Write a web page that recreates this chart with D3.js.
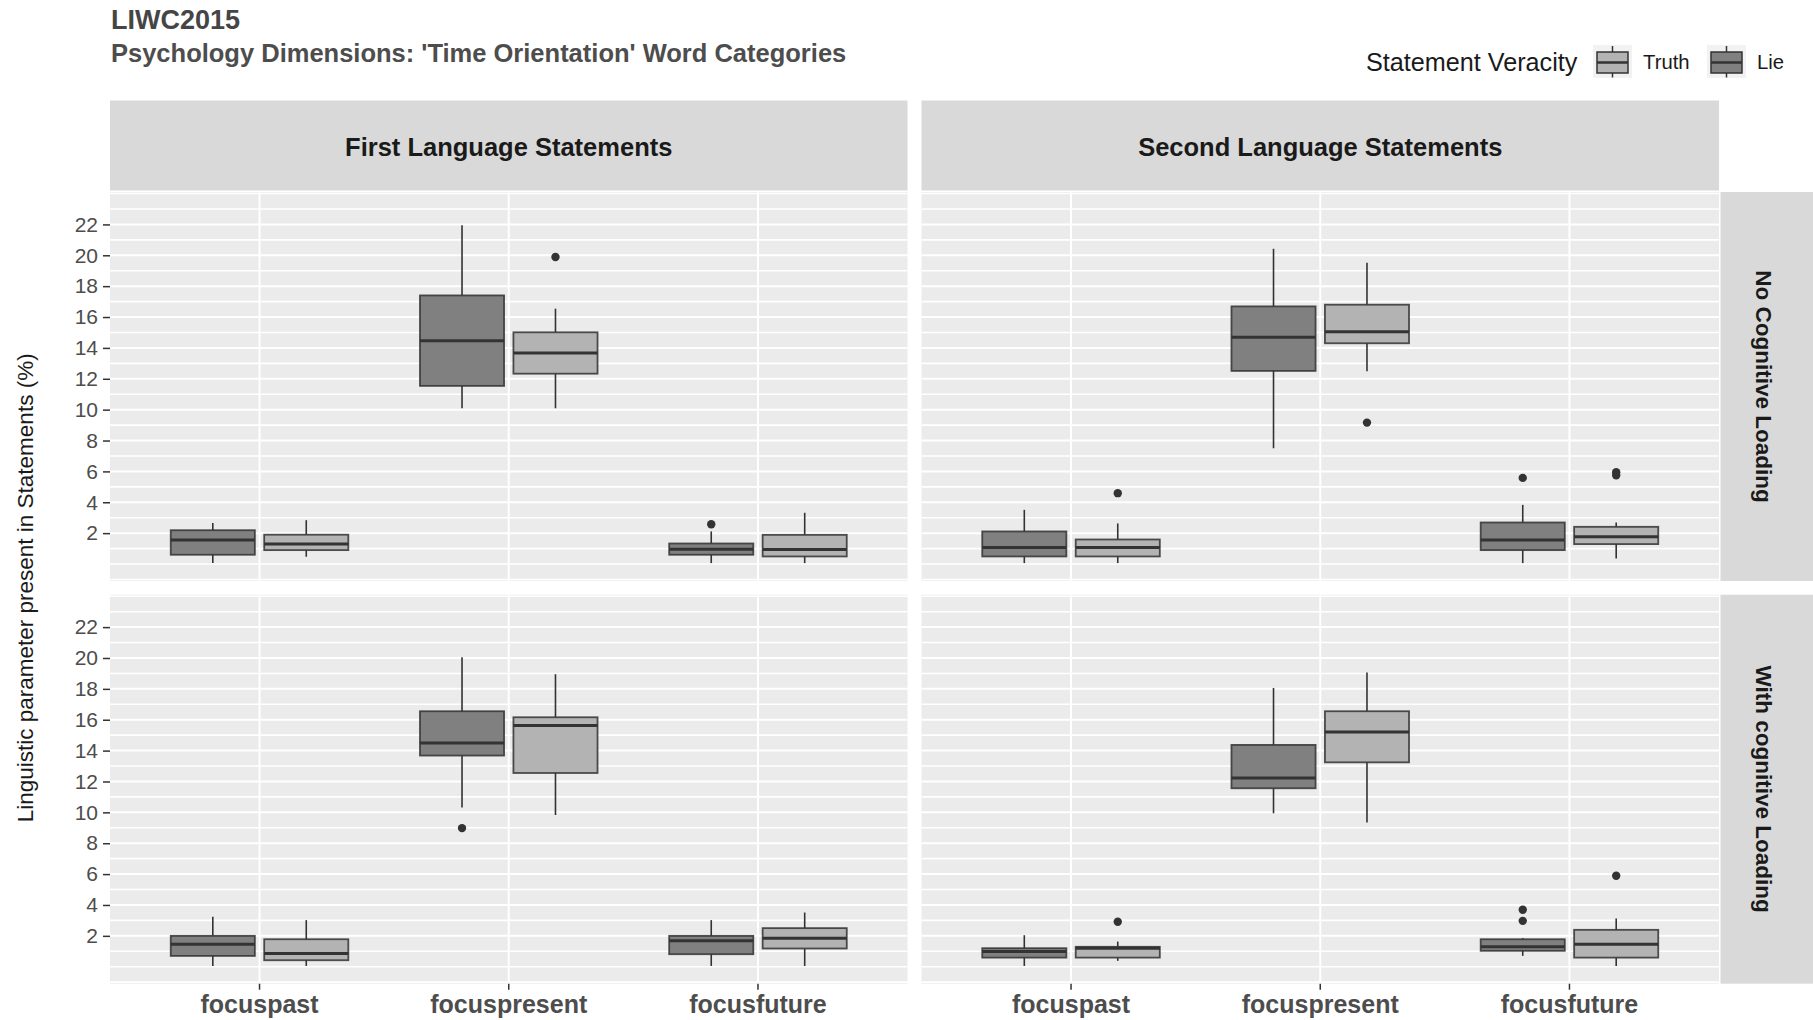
<!DOCTYPE html>
<html>
<head>
<meta charset="utf-8">
<script src="https://cdn.jsdelivr.net/npm/d3@7"></script>
<style>
  html, body { margin: 0; padding: 0; background: #ffffff; }
  svg { display: block; font-family: "Liberation Sans", Arial, sans-serif; }
</style>
</head>
<body>
<script>
// Facets, categories and groups
const languages = ["First Language Statements", "Second Language Statements"];
const loadings = ["No Cognitive Loading", "With cognitive Loading"];
const categories = ["focuspast", "focuspresent", "focusfuture"];
const dodgeOrder = ["Lie", "Truth"];
const legendOrder = ["Truth", "Lie"];
const yTicks = [2, 4, 6, 8, 10, 12, 14, 16, 18, 20, 22];

// Box statistics per category: [lower whisker, Q1, median, Q3, upper whisker]
const firstNoLie    = [[0.06, 0.60, 1.55, 2.19, 2.65], [10.09, 11.54, 14.47, 17.40, 21.94], [0.06, 0.60, 0.96, 1.33, 2.11]];
const firstNoTruth  = [[0.47, 0.90, 1.29, 1.90, 2.84], [10.09, 12.33, 13.67, 15.01, 16.54], [0.06, 0.49, 0.94, 1.89, 3.32]];
const secondNoLie   = [[0.06, 0.49, 1.07, 2.11, 3.51], [7.50, 12.51, 14.69, 16.69, 20.42], [0.06, 0.90, 1.55, 2.69, 3.83]];
const secondNoTruth = [[0.06, 0.49, 1.07, 1.59, 2.63], [12.49, 14.30, 15.05, 16.80, 19.52], [0.36, 1.29, 1.76, 2.41, 2.69]];
const firstWithLie    = [[0.05, 0.70, 1.46, 2.00, 3.23], [10.32, 13.68, 14.50, 16.55, 20.05], [0.05, 0.81, 1.68, 2.00, 3.02]];
const firstWithTruth  = [[0.05, 0.42, 0.85, 1.78, 3.02], [9.83, 12.55, 15.62, 16.16, 18.95], [0.05, 1.18, 1.85, 2.50, 3.51]];
const secondWithLie   = [[0.05, 0.59, 0.98, 1.20, 2.04], [9.94, 11.56, 12.23, 14.37, 18.06], [0.70, 1.03, 1.29, 1.78, 1.85]];
const secondWithTruth = [[0.38, 0.59, 1.20, 1.29, 1.63], [9.35, 13.24, 15.21, 16.55, 19.06], [0.05, 0.59, 1.46, 2.39, 3.12]];

// Outlying values per category
const firstNoLieOut    = [[], [], [2.58]];
const firstNoTruthOut  = [[], [19.89], []];
const secondNoLieOut   = [[], [], [5.58]];
const secondNoTruthOut = [[4.59], [9.16], [5.75, 5.95]];
const firstWithLieOut    = [[], [8.98], []];
const firstWithTruthOut  = [[], [], []];
const secondWithLieOut   = [[], [], [2.97, 3.69]];
const secondWithTruthOut = [[2.91], [], [5.89]];

// Panel table: [row][col] -> { Lie, Truth }
const panels = [
  [ { Lie: [firstNoLie, firstNoLieOut], Truth: [firstNoTruth, firstNoTruthOut] },
    { Lie: [secondNoLie, secondNoLieOut], Truth: [secondNoTruth, secondNoTruthOut] } ],
  [ { Lie: [firstWithLie, firstWithLieOut], Truth: [firstWithTruth, firstWithTruthOut] },
    { Lie: [secondWithLie, secondWithLieOut], Truth: [secondWithTruth, secondWithTruthOut] } ]
];

const fills = { Lie: "#808080", Truth: "#b3b3b3" };
const lineCol = "#333333";

const W = 1813, H = 1020;
const panelW = 797.5, panelH = 389;
const colX = [110, 921.5];
const rowY = [192, 594.7];

const svg = d3.select("body").append("svg").attr("width", W).attr("height", H);
svg.append("rect").attr("width", W).attr("height", H).attr("fill", "#ffffff");

// Scales shared by every facet
const x = d3.scaleBand().domain(categories).range([0, panelW]).paddingInner(0).paddingOuter(0.1);
const step = x.step();
const xd = d3.scaleBand().domain(dodgeOrder)
  .range([-0.375 * step, 0.375 * step]).paddingInner(0.1).paddingOuter(0.05);
const y = d3.scaleLinear().domain([-1.1, 24.1]).range([panelH, 0]);

// Titles
svg.append("text").attr("x", 111).attr("y", 28.5)
  .attr("font-size", 27).attr("font-weight", "bold").attr("fill", "#454545")
  .text("LIWC2015");
svg.append("text").attr("x", 111).attr("y", 61.5)
  .attr("font-size", 25.5).attr("font-weight", "bold").attr("fill", "#4d4d4d")
  .text("Psychology Dimensions: 'Time Orientation' Word Categories");

// Legend
const legend = svg.append("g");
legend.append("text").attr("x", 1366).attr("y", 71)
  .attr("font-size", 25.2).attr("fill", "#1a1a1a").text("Statement Veracity");
const keyX = { Truth: 1593, Lie: 1707 };
const labelX = { Truth: 1643, Lie: 1757 };
legendOrder.forEach(v => {
  const g = legend.append("g").attr("transform", `translate(${keyX[v]},45)`);
  g.append("rect").attr("width", 39).attr("height", 33).attr("fill", "#f2f2f2");
  g.append("line").attr("x1", 19.5).attr("x2", 19.5).attr("y1", 1).attr("y2", 7)
    .attr("stroke", lineCol).attr("stroke-width", 1.5);
  g.append("line").attr("x1", 19.5).attr("x2", 19.5).attr("y1", 28).attr("y2", 32.5)
    .attr("stroke", lineCol).attr("stroke-width", 1.5);
  g.append("rect").attr("x", 4).attr("y", 7).attr("width", 31).attr("height", 21)
    .attr("fill", fills[v]).attr("stroke", lineCol).attr("stroke-width", 1.5);
  g.append("line").attr("x1", 4).attr("x2", 35).attr("y1", 17.5).attr("y2", 17.5)
    .attr("stroke", lineCol).attr("stroke-width", 2.5);
  legend.append("text").attr("x", labelX[v]).attr("y", 69)
    .attr("font-size", 20.3).attr("fill", "#1a1a1a").text(v);
});

// Strips along the top
languages.forEach((lang, c) => {
  svg.append("rect").attr("x", colX[c]).attr("y", 100.5).attr("width", panelW).attr("height", 90)
    .attr("fill", "#d9d9d9");
  svg.append("text").attr("x", colX[c] + panelW / 2).attr("y", 155.5)
    .attr("text-anchor", "middle").attr("font-size", 25.5).attr("font-weight", "bold")
    .attr("fill", "#1a1a1a").text(lang);
});

// Strips along the right side
loadings.forEach((ld, r) => {
  svg.append("rect").attr("x", colX[1] + panelW + 1.5).attr("y", rowY[r]).attr("width", 95).attr("height", panelH)
    .attr("fill", "#d9d9d9");
  const cx = 1764, cy = rowY[r] + panelH / 2;
  svg.append("text").attr("transform", `translate(${cx},${cy}) rotate(90)`)
    .attr("text-anchor", "middle").attr("dy", "0.35em")
    .attr("font-size", 22.5).attr("font-weight", "bold").attr("fill", "#1a1a1a").text(ld);
});

// Y axis title
svg.append("text").attr("transform", `translate(25,${(rowY[0] + rowY[1] + panelH) / 2}) rotate(-90)`)
  .attr("text-anchor", "middle").attr("dy", "0.35em")
  .attr("font-size", 22.5).attr("fill", "#1a1a1a")
  .text("Linguistic parameter present in Statements (%)");

const gridVals = d3.range(-1, 25);

panels.forEach((row, r) => {
  row.forEach((cell, c) => {
    const g = svg.append("g").attr("transform", `translate(${colX[c]},${rowY[r]})`);
    g.append("rect").attr("width", panelW).attr("height", panelH).attr("fill", "#ebebeb");

    // Grid lines
    g.selectAll("line.hgrid").data(gridVals).join("line").attr("class", "hgrid")
      .attr("x1", 0).attr("x2", panelW)
      .attr("y1", d => y(d)).attr("y2", d => y(d))
      .attr("stroke", "#ffffff").attr("stroke-width", d => (d % 2 === 0 && d >= 2 && d <= 22) ? 2 : 1.6);
    g.selectAll("line.vgrid").data(categories).join("line").attr("class", "vgrid")
      .attr("x1", d => x(d) + x.bandwidth() / 2).attr("x2", d => x(d) + x.bandwidth() / 2)
      .attr("y1", 0).attr("y2", panelH)
      .attr("stroke", "#ffffff").attr("stroke-width", 2);

    // Boxes
    dodgeOrder.forEach(v => {
      const [stats, outs] = cell[v];
      categories.forEach((cat, i) => {
        const [lo, q1, med, q3, hi] = stats[i];
        const cx0 = x(cat) + x.bandwidth() / 2;
        const bx = cx0 + xd(v);
        const bw = xd.bandwidth();
        const mid = bx + bw / 2;
        const bg = g.append("g");
        bg.append("line").attr("x1", mid).attr("x2", mid).attr("y1", y(hi)).attr("y2", y(q3))
          .attr("stroke", lineCol).attr("stroke-width", 1.6);
        bg.append("line").attr("x1", mid).attr("x2", mid).attr("y1", y(q1)).attr("y2", y(lo))
          .attr("stroke", lineCol).attr("stroke-width", 1.6);
        bg.append("rect").attr("x", bx).attr("y", y(q3)).attr("width", bw).attr("height", y(q1) - y(q3))
          .attr("fill", fills[v]).attr("stroke", lineCol).attr("stroke-width", 1.8).attr("stroke-opacity", 0.85);
        bg.append("line").attr("x1", bx).attr("x2", bx + bw).attr("y1", y(med)).attr("y2", y(med))
          .attr("stroke", lineCol).attr("stroke-width", 3);
        bg.selectAll("circle").data(outs[i]).join("circle")
          .attr("cx", mid).attr("cy", d => y(d)).attr("r", 4.2).attr("fill", lineCol);
      });
    });

    // Y axis on the left column
    if (c === 0) {
      const ya = g.append("g").call(d3.axisLeft(y).tickValues(yTicks).tickSize(7).tickPadding(5));
      ya.select(".domain").remove();
      ya.selectAll(".tick line").attr("stroke", "#333333").attr("stroke-width", 1.5);
      ya.selectAll(".tick text").attr("font-size", 21).attr("fill", "#4d4d4d")
        .attr("font-family", "'Liberation Sans', Arial, sans-serif");
    }
    // X axis on the bottom row
    if (r === 1) {
      const xa = g.append("g").attr("transform", `translate(0,${panelH})`)
        .call(d3.axisBottom(x).tickSize(6).tickPadding(5.5));
      xa.select(".domain").remove();
      xa.selectAll(".tick line").attr("stroke", "#333333").attr("stroke-width", 1.5);
      xa.selectAll(".tick text").attr("font-size", 25).attr("font-weight", "bold").attr("fill", "#4d4d4d")
        .attr("font-family", "'Liberation Sans', Arial, sans-serif");
    }
  });
});
</script>
</body>
</html>
